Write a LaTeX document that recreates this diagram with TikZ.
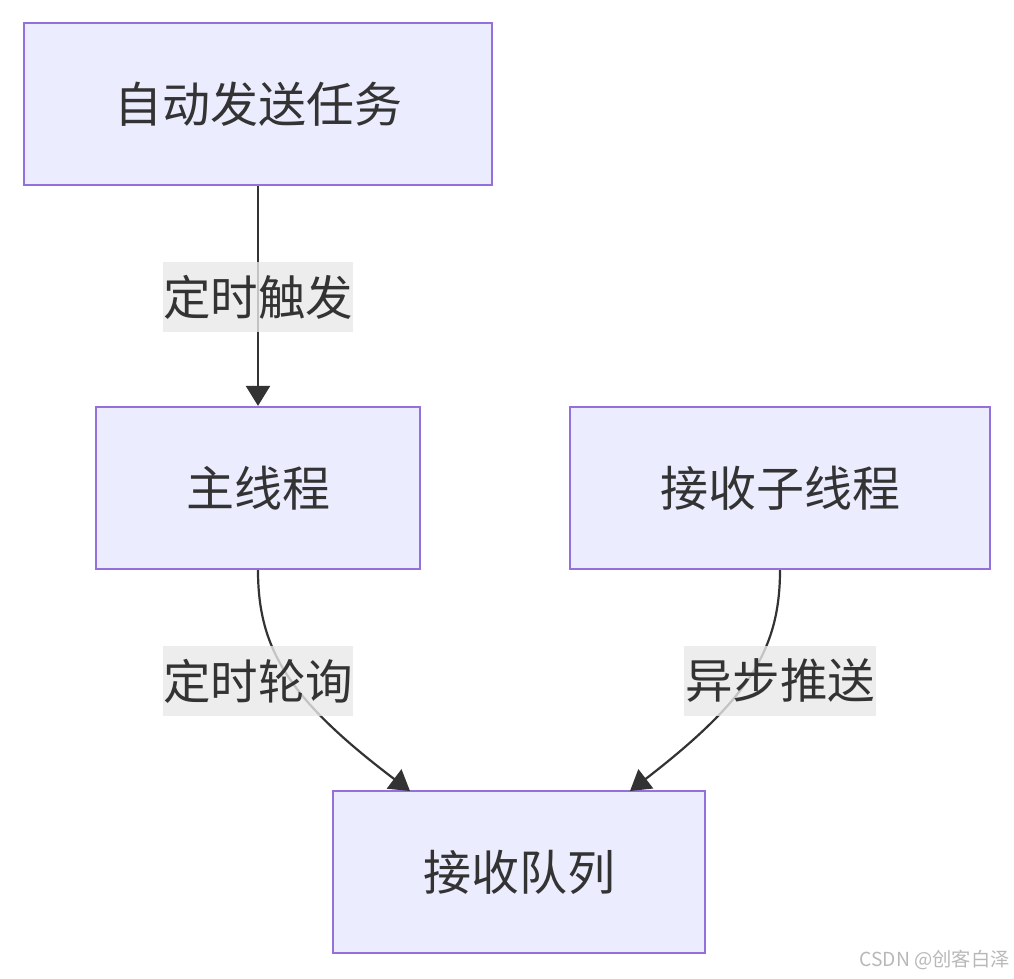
\documentclass[tikz,border=0pt]{standalone}
\usepackage{fontspec}
\setmainfont{Noto Sans CJK SC}
\newfontfamily\wmfont{Noto Sans CJK SC}
\usetikzlibrary{arrows.meta}
\definecolor{boxfill}{HTML}{ECECFF}
\definecolor{boxline}{HTML}{9370DB}
\definecolor{txt}{HTML}{333333}
\definecolor{lblbg}{HTML}{E8E8E8}
\begin{document}
\begin{tikzpicture}[x=1pt,y=-1pt,
  procbox/.style={draw=boxline,fill=boxfill,line width=2.2pt,inner sep=0pt,
    text=txt,font=\fontsize{48}{54}\selectfont,anchor=center},
  edgelbl/.style={fill=lblbg,fill opacity=0.8,text opacity=1,text=txt,
    inner sep=0pt,minimum height=70pt,font=\fontsize{47.5}{54}\selectfont},
  conn/.style={draw=txt,line width=2.2pt,-{Triangle[length=20pt,width=24pt]}}]
\useasboundingbox (0,0) rectangle (1014,978);
\node[procbox,minimum width=468pt,minimum height=162pt] (auto) at (258,104) {自动发送任务};
\node[procbox,minimum width=324pt,minimum height=162pt] (main) at (258,488) {主线程};
\node[procbox,minimum width=420pt,minimum height=162pt] (recv) at (780,488) {接收子线程};
\node[procbox,minimum width=372pt,minimum height=162pt] (queue) at (519,872) {接收队列};
\coordinate (qa) at (410,791);
\coordinate (qb) at (630,791);
\draw[conn] (auto.south) -- (main.north);
\draw[conn] (main.south) .. controls (258,650) and (290,700) .. (qa);
\draw[conn] (recv.south) .. controls (780,650) and (748,700) .. (qb);
\node[edgelbl,minimum width=190pt] (l1) at (258,297) {定时触发};
\node[edgelbl,minimum width=190pt] (l2) at (258,681) {定时轮询};
\node[edgelbl,minimum width=192pt] (l3) at (780,681) {异步推送};
\node[anchor=east,inner sep=0pt,text=black!28,font=\wmfont\fontsize{19.3}{22}\selectfont] (wm) at (1010,960) {CSDN @创客白泽};
\end{tikzpicture}
\end{document}
